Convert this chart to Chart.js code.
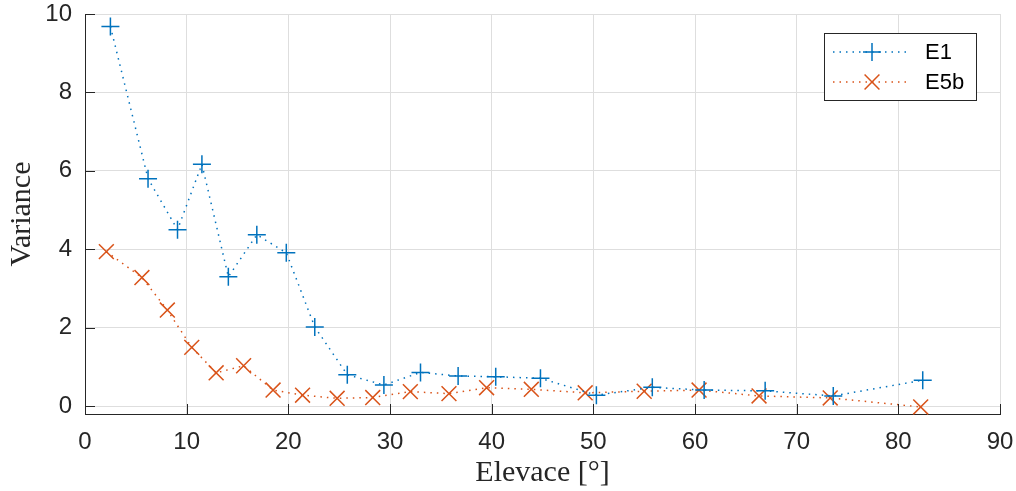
<!DOCTYPE html>
<html>
<head>
<meta charset="utf-8">
<script src="https://cdn.jsdelivr.net/npm/chart.js@4.4.1/dist/chart.umd.min.js"></script>
<style>
  html, body { margin: 0; padding: 0; background: #fff; }
  #wrap { width: 1016px; height: 491px; position: relative; }
</style>
</head>
<body>
<div id="wrap"><canvas id="chart"></canvas></div>
<script>
// data
const e1Elev = [2.5, 6.2, 9.1, 11.5, 14.1, 16.9, 19.8, 22.6, 25.8, 29.4, 33.0, 36.7, 40.4, 44.8, 50.3, 55.8, 60.9, 66.9, 73.6, 82.4];
const e1Var  = [9.68, 5.8, 4.5, 6.17, 3.3, 4.37, 3.91, 2.02, 0.8, 0.54, 0.86, 0.77, 0.75, 0.71, 0.28, 0.48, 0.41, 0.39, 0.26, 0.66];
const e5bElev = [2.1, 5.6, 8.1, 10.5, 12.9, 15.6, 18.5, 21.4, 24.8, 28.3, 32.0, 35.8, 39.5, 43.9, 49.2, 55.0, 60.4, 66.3, 73.3, 82.2];
const e5bVar  = [3.94, 3.28, 2.45, 1.5, 0.85, 1.03, 0.41, 0.28, 0.2, 0.22, 0.37, 0.32, 0.47, 0.43, 0.34, 0.38, 0.41, 0.26, 0.21, -0.02];
const xTicks = [0, 10, 20, 30, 40, 50, 60, 70, 80, 90];
const yTicks = [0, 2, 4, 6, 8, 10];

const blue = '#0072BD';
const orange = '#D95319';
const axisColor = '#262626';

function toPoints(xs, ys) {
  return xs.map((x, i) => ({ x: x, y: ys[i] }));
}

// inward tick marks like the original
const innerTicks = {
  id: 'innerTicks',
  afterDraw(chart) {
    const ctx = chart.ctx;
    const xs = chart.scales.x, ys = chart.scales.y;
    const area = chart.chartArea;
    ctx.save();
    ctx.strokeStyle = axisColor;
    ctx.lineWidth = 1;
    ctx.beginPath();
    xTicks.forEach(v => {
      const px = Math.round(xs.getPixelForValue(v)) + 0.5;
      ctx.moveTo(px, area.bottom);
      ctx.lineTo(px, area.bottom - 10);
    });
    yTicks.forEach(v => {
      const py = Math.round(ys.getPixelForValue(v)) + 0.5;
      ctx.moveTo(area.left, py);
      ctx.lineTo(area.left + 10, py);
    });
    ctx.stroke();
    ctx.restore();
  }
};

// matlab-style legend box with line + marker samples
const boxLegend = {
  id: 'boxLegend',
  afterDraw(chart) {
    const ctx = chart.ctx;
    const x0 = 824.5, y0 = 33.5, w = 152, h = 67;
    ctx.save();
    ctx.fillStyle = '#fff';
    ctx.fillRect(x0, y0, w, h);
    ctx.strokeStyle = axisColor;
    ctx.lineWidth = 1;
    ctx.strokeRect(x0, y0, w, h);
    chart.data.datasets.forEach((ds, i) => {
      const cy = 52 + i * 30;
      ctx.strokeStyle = ds.borderColor;
      ctx.lineWidth = 1.5;
      ctx.setLineDash(ds.borderDash);
      ctx.beginPath();
      ctx.moveTo(833, cy);
      ctx.lineTo(911, cy);
      ctx.stroke();
      ctx.setLineDash([]);
      Chart.helpers.drawPoint(ctx, {
        pointStyle: ds.pointStyle,
        radius: ds.pointRadius,
        borderWidth: ds.pointBorderWidth,
        rotation: 0
      }, 872, cy);
      ctx.fillStyle = '#000';
      ctx.font = '22px "Liberation Sans", Arial, sans-serif';
      ctx.textBaseline = 'middle';
      ctx.textAlign = 'left';
      ctx.fillText(ds.label, 925, cy + 1);
    });
    ctx.restore();
  }
};

new Chart(document.getElementById('chart'), {
  type: 'line',
  data: {
    datasets: [
      {
        label: 'E1',
        data: toPoints(e1Elev, e1Var),
        borderColor: blue,
        backgroundColor: blue,
        borderWidth: 1.5,
        borderDash: [1.5, 5],
        pointStyle: 'cross',
        pointRadius: 9,
        pointBorderWidth: 1.5,
        pointBorderColor: blue,
        tension: 0,
        fill: false,
        clip: false
      },
      {
        label: 'E5b',
        data: toPoints(e5bElev, e5bVar),
        borderColor: orange,
        backgroundColor: orange,
        borderWidth: 1.5,
        borderDash: [1.5, 5],
        pointStyle: 'crossRot',
        pointRadius: 10.5,
        pointBorderWidth: 1.5,
        pointBorderColor: orange,
        tension: 0,
        fill: false,
        clip: false
      }
    ]
  },
  options: {
    responsive: true,
    maintainAspectRatio: false,
    animation: false,
    layout: { padding: { left: 0, right: 16, top: 14, bottom: 0 } },
    plugins: {
      legend: { display: false },
      tooltip: { enabled: false }
    },
    scales: {
      x: {
        type: 'linear',
        min: 0,
        max: 90,
        afterFit: s => { s.height = 77; s.paddingLeft = 0; s.paddingRight = 0; },
        afterBuildTicks: s => { s.ticks = xTicks.map(v => ({ value: v })); },
        grid: { color: '#dedede', lineWidth: 1, drawTicks: false },
        border: { display: true, color: axisColor, width: 1 },
        ticks: {
          padding: 14,
          color: axisColor,
          maxRotation: 0,
          font: { family: '"Liberation Sans", Arial, sans-serif', size: 24 }
        },
        title: {
          display: true,
          text: 'Elevace [°]',
          color: axisColor,
          padding: { top: 0, bottom: 0 },
          font: { family: '"Liberation Serif", "Times New Roman", serif', size: 30 }
        }
      },
      y: {
        type: 'linear',
        min: -0.2,
        max: 10,
        afterFit: s => { s.width = 85; s.paddingTop = 0; s.paddingBottom = 0; },
        afterBuildTicks: s => { s.ticks = yTicks.map(v => ({ value: v })); },
        grid: { color: '#dedede', lineWidth: 1, drawTicks: false },
        border: { display: true, color: axisColor, width: 1 },
        ticks: {
          padding: 13,
          color: axisColor,
          font: { family: '"Liberation Sans", Arial, sans-serif', size: 24 }
        },
        title: {
          display: true,
          text: 'Variance',
          color: axisColor,
          padding: { top: 4, bottom: 0 },
          font: { family: '"Liberation Serif", "Times New Roman", serif', size: 30 }
        }
      }
    }
  },
  plugins: [innerTicks, boxLegend]
});
</script>
</body>
</html>
